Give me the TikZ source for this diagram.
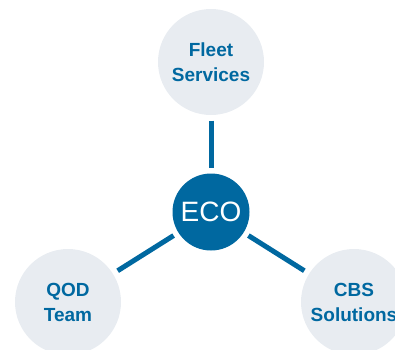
\documentclass[tikz,border=0pt]{standalone}
\usepackage{fontspec}
\setmainfont{Liberation Sans}
\definecolor{ecoblue}{HTML}{0068A0}
\definecolor{circgray}{HTML}{E8ECF1}
\begin{document}
\begin{tikzpicture}[x=1pt,y=-1pt,
  outer/.style={circle,fill=circgray,minimum size=106pt,inner sep=0pt,align=center,
    text=ecoblue,font=\bfseries\fontsize{19}{25}\selectfont},
  hub/.style={circle,fill=ecoblue,minimum size=77pt,inner sep=0pt,text=white,
    font=\fontsize{28}{30}\selectfont},
  link/.style={draw=ecoblue,line width=5pt,shorten <=5.5pt,shorten >=5.5pt}]
\useasboundingbox (0,0) rectangle (395,349);
\node[outer] (fleet) at (211,62) {Fleet\\Services};
\node[outer] (qod) at (68,302) {QOD\\Team};
\node[outer] (cbs) at (354,302) {CBS\\Solutions};
\node[hub] (eco) at (211,212) {ECO};
\draw[link] (fleet) -- (eco);
\draw[link] (qod) -- (eco);
\draw[link] (cbs) -- (eco);
\end{tikzpicture}
\end{document}
